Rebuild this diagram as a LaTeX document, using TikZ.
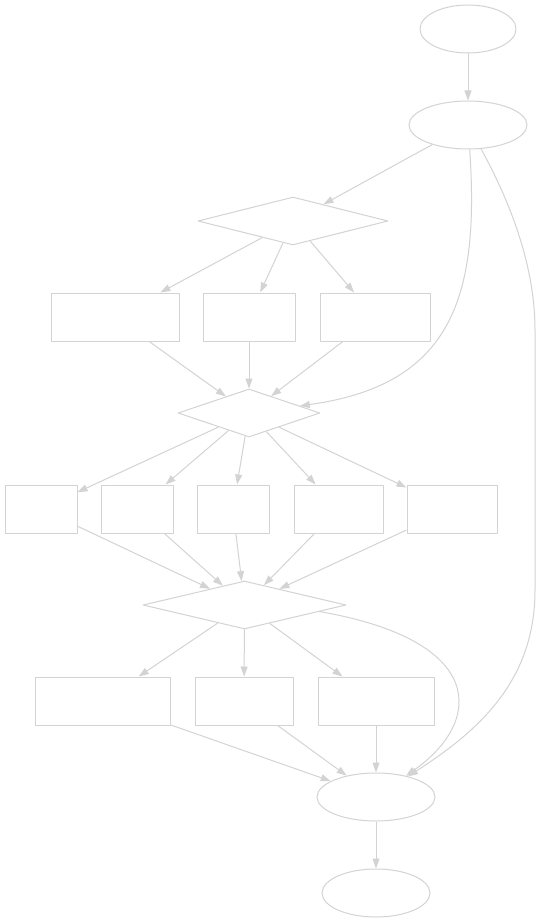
\documentclass[tikz,border=0pt]{standalone}
\usetikzlibrary{positioning, arrows.meta, shapes.geometric}
\definecolor{figline}{HTML}{D3D3D3}

\begin{document}
\begin{tikzpicture}[
  x=1pt, y=-1pt,
  line width=1pt, line join=round, color=figline,
  >={Triangle[length=10pt,width=7pt]},
  blk/.style  = {draw=figline, rectangle, inner sep=0pt,
                 minimum height=48pt, anchor=center},
  dec/.style  = {draw=figline, diamond, inner sep=0pt, aspect=4,
                 minimum height=48pt, anchor=center},
  term/.style = {draw=figline, ellipse, inner sep=0pt,
                 minimum height=48pt, anchor=center}
]
\useasboundingbox (0,0) rectangle (540,923);

\node[term, minimum width=96pt]  (start) at (468,29)  {};
\node[term, minimum width=118pt] (prep)  at (468,125) {};
\node[dec,  minimum width=190pt] (dA)    at (293,221) {};

\node[blk, minimum width=128pt] (a1) at (115,317) {};
\node[blk, minimum width=92pt]  (a2) at (249,317) {};
\node[blk, minimum width=110pt] (a3) at (375,317) {};

\node[dec, minimum width=142pt] (dB) at (249,413) {};

\node[blk, minimum width=72pt] (b1) at (41,509)    {};
\node[blk, minimum width=72pt] (b2) at (137,509)   {};
\node[blk, minimum width=72pt] (b3) at (233,509)   {};
\node[blk, minimum width=89pt] (b4) at (338.5,509) {};
\node[blk, minimum width=90pt] (b5) at (452,509)   {};

\node[dec, minimum width=203pt] (dC) at (244.5,605) {};

\node[blk, minimum width=135pt] (c1) at (102.5,701) {};
\node[blk, minimum width=98pt]  (c2) at (244,701)   {};
\node[blk, minimum width=116pt] (c3) at (376,701)   {};

\node[term, minimum width=118pt] (merge) at (376,797) {};
\node[term, minimum width=108pt] (stop)  at (376,893) {};

% top
\draw[->] (start) -- (prep);
\draw[->] (prep) -- (dA);
\draw[->] (prep) .. controls (480,300) and (450,385) .. (dB);
\draw[->] (prep) .. controls (520,220) and (535,280) .. (535,330)
          -- (535,590) .. controls (535,680) and (480,730) .. (merge);

% first branch
\foreach \n in {a1,a2,a3} {
  \draw[->] (dA) -- (\n);
  \draw[->] (\n) -- (dB);
}

% second branch
\foreach \n in {b1,b2,b3,b4,b5} {
  \draw[->] (dB) -- (\n);
  \draw[->] (\n) -- (dC);
}

% third branch
\foreach \n in {c1,c2,c3} {
  \draw[->] (dC) -- (\n);
  \draw[->] (\n) -- (merge);
}
\draw[->] (dC.-5) .. controls (485,640) and (485,720) .. (merge);

% bottom
\draw[->] (merge) -- (stop);

\end{tikzpicture}
\end{document}
